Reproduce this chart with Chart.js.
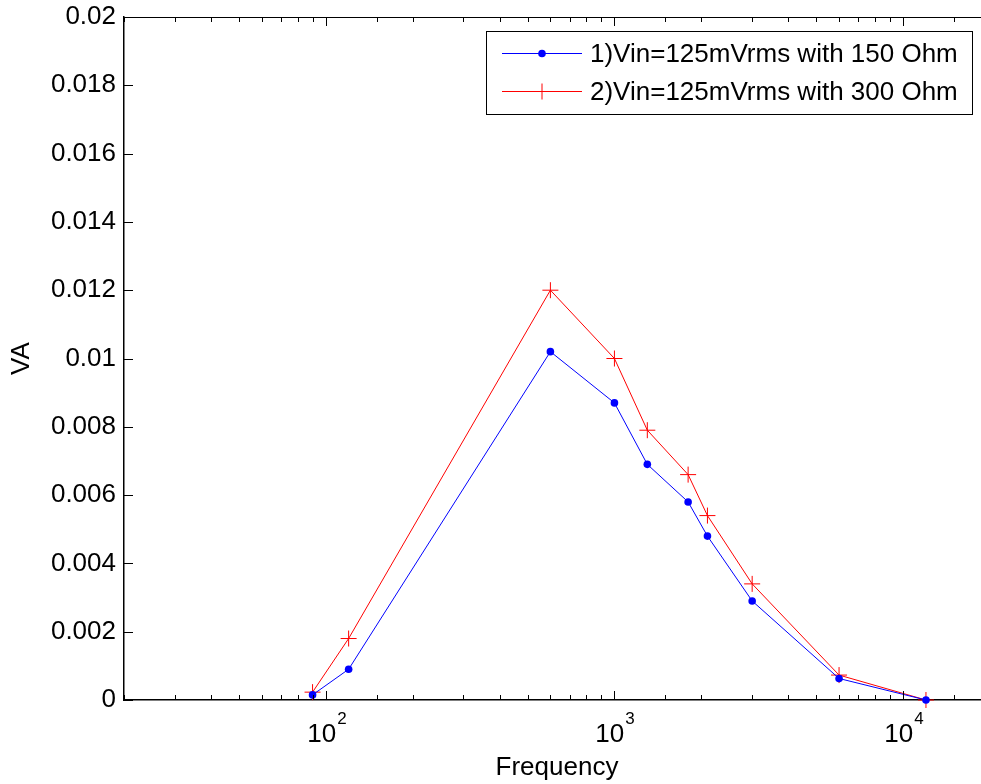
<!DOCTYPE html>
<html>
<head>
<meta charset="utf-8">
<style>
  html, body { margin: 0; padding: 0; background: #fff; overflow: hidden; }
  #wrap { width: 1000px; height: 784px; }
</style>
<script src="https://cdn.jsdelivr.net/npm/chart.js@4"></script>
</head>
<body>
<div id="wrap"><canvas id="chart" width="1000" height="784"></canvas></div>
<script>
// ---------- data ----------
const FREQS = [90, 120, 600, 1000, 1300, 1800, 2100, 3000, 6000, 12000];
const VA_150 = [0.00015, 0.0009, 0.0102, 0.0087, 0.0069, 0.0058, 0.0048, 0.0029, 0.00063, 0];
const VA_300 = [0.00023, 0.0018, 0.0120, 0.0100, 0.0079, 0.0066, 0.0054, 0.0034, 0.00073, 0];
const LABELS = ["1)Vin=125mVrms with 150 Ohm", "2)Vin=125mVrms with 300 Ohm"];
const Y_TICKS = [0, 0.002, 0.004, 0.006, 0.008, 0.01, 0.012, 0.014, 0.016, 0.018, 0.02];

const FONT = "Liberation Sans, Arial, Helvetica, sans-serif";
const FS = 26;

const el = (id) => document.getElementById(id);

// ---------- plugins ----------
// matlab style: ticks pointing inward, top border, superscript decade labels
const matlabAxes = {
  id: "matlabAxes",
  afterDraw(chart) {
    const { ctx, chartArea: a, scales } = chart;
    const x = scales.x, y = scales.y;
    ctx.save();
    ctx.strokeStyle = "#000";
    ctx.lineWidth = 1;

    // top border
    ctx.beginPath();
    ctx.moveTo(a.left, a.top + 0.5);
    ctx.lineTo(a.right, a.top + 0.5);
    ctx.stroke();

    // x ticks (bottom + top)
    x.ticks.forEach((t) => {
      const v = t.value;
      const px = Math.round(x.getPixelForValue(v)) + 0.5;
      const major = Math.abs(Math.log10(v) - Math.round(Math.log10(v))) < 1e-9;
      const len = major ? 9 : 5;
      ctx.beginPath();
      ctx.moveTo(px, a.bottom);
      ctx.lineTo(px, a.bottom - len);
      ctx.moveTo(px, a.top);
      ctx.lineTo(px, a.top + len);
      ctx.stroke();

      if (major) {
        const exp = String(Math.round(Math.log10(v)));
        ctx.fillStyle = "#000";
        ctx.textBaseline = "alphabetic";
        ctx.font = FS + "px " + FONT;
        const w1 = ctx.measureText("10").width;
        ctx.font = "17px " + FONT;
        const w2 = ctx.measureText(exp).width;
        const start = px - (w1 + w2) / 2;
        ctx.font = FS + "px " + FONT;
        ctx.textAlign = "left";
        ctx.fillText("10", start, 742);
        ctx.font = "17px " + FONT;
        ctx.fillText(exp, start + w1 + 1, 724);
      }
    });

    // y ticks (left)
    Y_TICKS.forEach((v) => {
      const py = Math.round(y.getPixelForValue(v)) + 0.5;
      ctx.beginPath();
      ctx.moveTo(a.left, py);
      ctx.lineTo(a.left + 9, py);
      ctx.moveTo(a.right, py);
      ctx.lineTo(a.right - 9, py);
      ctx.stroke();
    });
    ctx.restore();
  },
};

// legend box with line + marker samples, upper right
const matlabLegend = {
  id: "matlabLegend",
  afterDraw(chart) {
    const { ctx } = chart;
    const box = { x: 486, y: 31, w: 486, h: 83 };
    ctx.save();
    ctx.fillStyle = "#fff";
    ctx.fillRect(box.x, box.y, box.w, box.h);
    ctx.strokeStyle = "#000";
    ctx.lineWidth = 1;
    ctx.strokeRect(box.x + 0.5, box.y + 0.5, box.w, box.h);

    const rows = [53, 91];
    chart.data.datasets.forEach((ds, i) => {
      const ry = rows[i] + 0.5;
      ctx.strokeStyle = ds.borderColor;
      ctx.lineWidth = 1;
      ctx.beginPath();
      ctx.moveTo(502, ry);
      ctx.lineTo(582, ry);
      ctx.stroke();

      if (ds.pointStyle === "circle") {
        ctx.fillStyle = ds.borderColor;
        ctx.beginPath();
        ctx.arc(542, ry, 3.8, 0, Math.PI * 2);
        ctx.fill();
      } else {
        ctx.beginPath();
        ctx.moveTo(534, ry);
        ctx.lineTo(550, ry);
        ctx.moveTo(542, ry - 8);
        ctx.lineTo(542, ry + 8);
        ctx.stroke();
      }

      ctx.fillStyle = "#000";
      ctx.font = FS + "px " + FONT;
      ctx.textAlign = "left";
      ctx.textBaseline = "middle";
      ctx.fillText(ds.label, 590, ry + 1);
    });
    ctx.restore();
  },
};

// ---------- chart ----------
function toPoints(xs, ys) {
  return xs.map((f, i) => ({ x: f, y: ys[i] }));
}

new Chart(el("chart"), {
  type: "line",
  data: {
    datasets: [
      {
        label: LABELS[0],
        data: toPoints(FREQS, VA_150),
        borderColor: "#0000ff",
        backgroundColor: "#0000ff",
        borderWidth: 1,
        pointStyle: "circle",
        pointRadius: 3.8,
        pointBorderWidth: 0,
        tension: 0,
      },
      {
        label: LABELS[1],
        data: toPoints(FREQS, VA_300),
        borderColor: "#ff0000",
        backgroundColor: "#ff0000",
        borderWidth: 1,
        pointStyle: "cross",
        pointRadius: 8,
        pointBorderWidth: 1,
        tension: 0,
      },
    ],
  },
  options: {
    responsive: false,
    devicePixelRatio: 1,
    animation: false,
    clip: false,
    layout: { padding: { top: 17, right: 10, left: 0, bottom: 0 } },
    plugins: {
      legend: { display: false },
      tooltip: { enabled: false },
    },
    scales: {
      x: {
        type: "logarithmic",
        min: 20,
        max: 20000,
        afterFit: (s) => { s.height = 84; s.paddingLeft = 0; s.paddingRight = 0; },
        grid: { drawOnChartArea: false, drawTicks: false },
        border: { color: "#000", width: 1.5 },
        ticks: {
          autoSkip: false,
          callback: () => "",
        },
        title: {
          display: true,
          text: "Frequency",
          color: "#000",
          font: { family: FONT, size: FS },
          padding: { top: 0, bottom: 1 },
        },
      },
      y: {
        min: 0,
        max: 0.02,
        afterFit: (s) => { s.width = 124; s.paddingTop = 0; s.paddingBottom = 0; },
        grid: { drawOnChartArea: false, drawTicks: false },
        border: { color: "#000", width: 1.5 },
        ticks: {
          stepSize: 0.002,
          padding: 8,
          color: "#000",
          font: { family: FONT, size: FS },
          callback: (v) => String(+v.toFixed(3)),
        },
        title: {
          display: true,
          text: "VA",
          color: "#000",
          font: { family: FONT, size: FS },
          padding: { top: 6, bottom: 0 },
        },
      },
    },
  },
  plugins: [matlabAxes, matlabLegend],
});
</script>
</body>
</html>
